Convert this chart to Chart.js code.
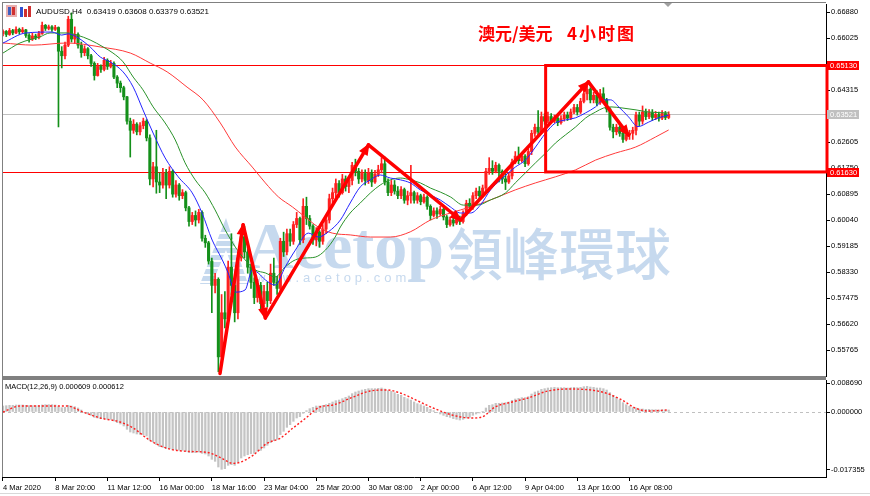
<!DOCTYPE html>
<html>
<head>
<meta charset="utf-8">
<script src="https://cdn.jsdelivr.net/npm/chart.js@4/dist/chart.umd.min.js"></script>
<style>
  html, body { margin: 0; padding: 0; background: #fff; }
  #wrap { position: relative; width: 870px; height: 496px; overflow: hidden; }
  #main { position: absolute; left: 0; top: 0; }
  #macd { position: absolute; left: 0; top: 378px; }
</style>
</head>
<body>
<div id="wrap">
  <canvas id="main" width="870" height="378"></canvas>
  <canvas id="macd" width="870" height="118"></canvas>
</div>
<script>
// AUDUSD H4, 4 Mar - 17 Apr 2020 (open of each bar = close of the previous bar)
const firstOpen = 0.6618;
const closes = [
  0.6625,0.6615,0.6628,0.6620,0.6632,0.6624,0.6630,0.6612,0.6600,0.6610,0.6605,0.6618,0.6645,0.6635,0.6640,0.6632,0.6638,
  0.6560,0.6545,0.6580,0.6665,0.6600,0.6615,0.6580,0.6555,0.6568,0.6545,0.6520,0.6480,0.6510,0.6500,0.6530,0.6510,0.6520,
  0.6475,0.6455,0.6440,0.6410,0.6330,0.6300,0.6320,0.6295,0.6315,0.6330,0.6275,0.6140,0.6180,0.6130,0.6120,0.6160,0.6120,
  0.6165,0.6090,0.6120,0.6085,0.6095,0.6045,0.6000,0.6020,0.6005,0.6030,0.5945,0.5930,0.5870,0.5790,0.5810,0.5555,0.5700,
  0.5680,0.5850,0.5790,0.5700,0.5880,0.5950,0.5900,0.5850,0.5800,0.5750,0.5790,0.5730,0.5770,0.5740,0.5830,0.5800,0.5780,
  0.5935,0.5900,0.5960,0.5935,0.5990,0.6010,0.5940,0.6050,0.6010,0.5985,0.5940,0.5965,0.5935,0.5975,0.6005,0.6075,0.6095,
  0.6125,0.6095,0.6140,0.6115,0.6135,0.6185,0.6165,0.6140,0.6158,0.6135,0.6160,0.6130,0.6155,0.6170,0.6190,0.6130,0.6095,
  0.6120,0.6100,0.6085,0.6105,0.6070,0.6085,0.6095,0.6070,0.6085,0.6065,0.6080,0.6050,0.6020,0.6035,0.6025,0.6040,0.6015,
  0.5990,0.6005,0.5995,0.6010,0.6000,0.6025,0.6060,0.6050,0.6085,0.6100,0.6085,0.6110,0.6165,0.6175,0.6165,0.6185,0.6165,
  0.6140,0.6130,0.6150,0.6195,0.6215,0.6200,0.6215,0.6190,0.6230,0.6290,0.6310,0.6295,0.6345,0.6330,0.6345,0.6330,0.6340,
  0.6325,0.6338,0.6350,0.6340,0.6360,0.6375,0.6360,0.6395,0.6420,0.6435,0.6400,0.6415,0.6390,0.6420,0.6400,0.6370,0.6310,
  0.6295,0.6310,0.6290,0.6270,0.6285,0.6290,0.6300,0.6350,0.6330,0.6360,0.6345,0.6358,0.6342,0.6352,0.6340,0.6355,0.6342,
  0.63521
];
const highs = [
  0.6630,0.6628,0.6635,0.6632,0.6640,0.6636,0.6638,0.6632,0.6618,0.6620,0.6616,0.6625,0.6656,0.6648,0.6646,0.6644,0.6645,
  0.6640,0.6575,0.6590,0.6675,0.6686,0.6640,0.6620,0.6590,0.6578,0.6572,0.6550,0.6525,0.6520,0.6515,0.6540,0.6535,0.6530,
  0.6525,0.6480,0.6462,0.6445,0.6412,0.6340,0.6335,0.6325,0.6325,0.6340,0.6335,0.6285,0.6195,0.6300,0.6160,0.6175,0.6172,
  0.6180,0.6170,0.6135,0.6125,0.6105,0.6100,0.6050,0.6030,0.6035,0.6040,0.6035,0.5955,0.5935,0.5880,0.5830,0.5815,0.5760,
  0.5770,0.5870,0.5960,0.5800,0.5900,0.5975,0.5985,0.5915,0.5860,0.5815,0.5810,0.5800,0.5790,0.5800,0.5860,0.5880,0.5820,
  0.5945,0.5965,0.5975,0.5975,0.6000,0.6030,0.6015,0.6075,0.6080,0.6020,0.5990,0.5980,0.5970,0.5990,0.6020,0.6090,0.6110,
  0.6140,0.6135,0.6155,0.6150,0.6145,0.6195,0.6205,0.6175,0.6170,0.6170,0.6175,0.6170,0.6168,0.6185,0.6210,0.6212,0.6140,
  0.6135,0.6135,0.6115,0.6115,0.6110,0.6100,0.6185,0.6100,0.6095,0.6090,0.6090,0.6085,0.6055,0.6045,0.6045,0.6050,0.6045,
  0.6020,0.6015,0.6012,0.6020,0.6018,0.6035,0.6070,0.6075,0.6095,0.6110,0.6115,0.6120,0.6175,0.6210,0.6200,0.6195,0.6190,
  0.6170,0.6160,0.6160,0.6205,0.6230,0.6245,0.6225,0.6220,0.6240,0.6300,0.6320,0.6365,0.6360,0.6355,0.6360,0.6355,0.6350,
  0.6345,0.6348,0.6360,0.6360,0.6370,0.6385,0.6385,0.6405,0.6430,0.6445,0.6440,0.6425,0.6430,0.6435,0.6440,0.6405,0.6375,
  0.6320,0.6320,0.6315,0.6295,0.6295,0.6300,0.6310,0.6360,0.6360,0.6380,0.6370,0.6368,0.6368,0.6362,0.6360,0.6365,0.6362,
  0.63608
];
const lows = [
  0.6610,0.6608,0.6612,0.6614,0.6618,0.6617,0.6620,0.6605,0.6590,0.6595,0.6598,0.6600,0.6615,0.6628,0.6630,0.6625,0.6628,
  0.6311,0.6505,0.6535,0.6575,0.6590,0.6585,0.6570,0.6540,0.6545,0.6535,0.6510,0.6465,0.6478,0.6490,0.6495,0.6500,0.6505,
  0.6470,0.6440,0.6425,0.6400,0.6320,0.6212,0.6290,0.6285,0.6285,0.6305,0.6265,0.6120,0.6114,0.6093,0.6095,0.6110,0.6075,
  0.6110,0.6080,0.6080,0.6070,0.6075,0.6035,0.5985,0.5990,0.5985,0.5995,0.5935,0.5915,0.5860,0.5700,0.5765,0.5506,0.5540,
  0.5650,0.5670,0.5760,0.5670,0.5680,0.5870,0.5880,0.5830,0.5780,0.5730,0.5735,0.5710,0.5720,0.5720,0.5730,0.5790,0.5760,
  0.5770,0.5885,0.5890,0.5920,0.5925,0.5980,0.5925,0.5930,0.5990,0.5975,0.5925,0.5920,0.5915,0.5925,0.5960,0.5995,0.6060,
  0.6080,0.6080,0.6090,0.6100,0.6095,0.6120,0.6150,0.6125,0.6130,0.6120,0.6125,0.6115,0.6125,0.6148,0.6160,0.6120,0.6085,
  0.6085,0.6090,0.6075,0.6075,0.6060,0.6055,0.6060,0.6060,0.6060,0.6055,0.6060,0.6040,0.6005,0.6015,0.6010,0.6020,0.6005,
  0.5980,0.5985,0.5985,0.5990,0.5990,0.5995,0.6020,0.6040,0.6040,0.6075,0.6075,0.6080,0.6100,0.6155,0.6155,0.6160,0.6130,
  0.6125,0.6105,0.6125,0.6140,0.6190,0.6190,0.6195,0.6180,0.6185,0.6220,0.6280,0.6285,0.6290,0.6320,0.6325,0.6325,0.6325,
  0.6315,0.6320,0.6330,0.6332,0.6335,0.6355,0.6350,0.6355,0.6390,0.6400,0.6390,0.6390,0.6380,0.6385,0.6390,0.6360,0.6300,
  0.6275,0.6285,0.6280,0.6260,0.6265,0.6270,0.6270,0.6285,0.6315,0.6320,0.6335,0.6338,0.6332,0.6335,0.6330,0.6335,0.6335,
  0.63379
];

// moving averages: [bar, price]
const maFast = [[0,0.6587],[7,0.6620],[15,0.6623],[18,0.6613],[20,0.6617],[23,0.6604],[26.7,0.6574],[29.8,0.6541],[32.8,0.6525],
  [36.8,0.6492],[39.9,0.6442],[42.9,0.6367],[46,0.6291],[49.7,0.6209],[53.7,0.6147],[58,0.6094],[61,0.6028],[64.1,0.5939],
  [67.2,0.5874],[69,0.5831],[71.2,0.5768],[74.2,0.5775],[76.4,0.5841],[78.2,0.5831],[80.4,0.5808],[83.4,0.5791],[86.5,0.5851],
  [89.6,0.5906],[93.6,0.5962],[96.6,0.5949],[99.7,0.5966],[103.4,0.6005],[106.4,0.6061],[109.5,0.6114],[112.6,0.6137],
  [115.6,0.6153],[118.7,0.6143],[121.8,0.6137],[124.8,0.6127],[127.9,0.6104],[131,0.6087],[134,0.6071],[137.1,0.6048],
  [140.2,0.6028],[143.3,0.6028],[146.3,0.6054],[149.4,0.6104],[152.5,0.6137],[157,0.6179],[160.1,0.6202],[163.2,0.6245],
  [166.3,0.6291],[169.3,0.6324],[172.4,0.6334],[175.5,0.6341],[178.5,0.6357],[181.6,0.6377],[184,0.6400],[186.2,0.6400],
  [188.7,0.6377],[191.7,0.6344],[194.6,0.6312],[197.9,0.6327],[200.9,0.6341],[204,0.6350]];
const maMid = [[0,0.6554],[5.2,0.6587],[11.3,0.6607],[14.4,0.6620],[19.6,0.6620],[22.7,0.6613],[26.7,0.6597],[30.7,0.6574],
  [33.7,0.6554],[36.8,0.6525],[39.9,0.6475],[42.9,0.6433],[46,0.6377],[49.7,0.6324],[52.8,0.6268],[55.8,0.6193],[58.9,0.6137],
  [62,0.6094],[65,0.6038],[68.1,0.5972],[71.2,0.5916],[74.2,0.5874],[77.3,0.5841],[80.4,0.5831],[83.4,0.5818],[86.5,0.5851],
  [89.6,0.5874],[92.6,0.5880],[95.7,0.5883],[98.8,0.5906],[101.8,0.5949],[103.4,0.5982],[106.4,0.6028],[109.5,0.6061],
  [112.6,0.6094],[115.6,0.6120],[118.7,0.6137],[121.8,0.6143],[124.8,0.6137],[127.9,0.6127],[131,0.6110],[134,0.6097],
  [137.1,0.6081],[141.1,0.6054],[145.4,0.6054],[149.4,0.6071],[154,0.6094],[157,0.6127],[160.1,0.6160],[163.2,0.6193],
  [166.3,0.6225],[169.3,0.6258],[172.4,0.6285],[175.5,0.6311],[178.5,0.6340],[181.6,0.6360],[184,0.6373],[186.2,0.6377],
  [190,0.6373],[194,0.6367],[198,0.6360],[204,0.6357]];
const maSlow = [[0,0.6587],[9.2,0.6580],[19.6,0.6587],[29.8,0.6574],[39,0.6554],[45.1,0.6521],[50.3,0.6492],[56.4,0.6442],
  [61.3,0.6400],[66.6,0.6324],[71.2,0.6245],[76.4,0.6179],[80.4,0.6127],[84.4,0.6081],[88.7,0.6048],[92.6,0.6015],
  [96.6,0.5982],[100.9,0.5962],[106.4,0.5956],[112.6,0.5949],[118.7,0.5949],[124.8,0.5966],[131,0.6005],[137.1,0.6028],
  [143.3,0.6048],[149.4,0.6071],[157,0.6104],[163.2,0.6127],[169.3,0.6147],[175.5,0.6170],[181.6,0.6202],[187.7,0.6225],
  [193.9,0.6245],[200,0.6278],[204,0.6301]];

// MACD(12,26,9) main value per bar and signal line knots
const macdMain = [
  0.0018,0.0019,0.0020,0.0020,0.0021,0.0021,0.0021,0.0020,0.0019,0.0019,0.0019,0.0019,0.0021,0.0022,0.0022,0.0022,0.0021,
  0.0016,0.0013,0.0014,0.0020,0.0018,0.0016,0.0012,0.0006,-0.0002,-0.0006,-0.0010,-0.0016,-0.0018,-0.0020,-0.0020,-0.0022,
  -0.0022,-0.0027,-0.0032,-0.0036,-0.0042,-0.0052,-0.0060,-0.0063,-0.0066,-0.0067,-0.0068,-0.0072,-0.0085,-0.0090,-0.0098,
  -0.0104,-0.0106,-0.0110,-0.0110,-0.0113,-0.0113,-0.0115,-0.0115,-0.0118,-0.0122,-0.0122,-0.0122,-0.0120,-0.0124,-0.0126,
  -0.0132,-0.0142,-0.0148,-0.0165,-0.0172,-0.0170,-0.0160,-0.0158,-0.0160,-0.0150,-0.0138,-0.0132,-0.0128,-0.0125,-0.0124,
  -0.0118,-0.0115,-0.0108,-0.0100,-0.0092,-0.0086,-0.0082,-0.0068,-0.0058,-0.0046,-0.0038,-0.0028,-0.0018,-0.0014,-0.0004,
  0.0004,0.0010,0.0014,0.0018,0.0018,0.0020,0.0022,0.0026,0.0030,0.0034,0.0036,0.0040,0.0044,0.0048,0.0055,0.0060,0.0063,
  0.0066,0.0068,0.0070,0.0070,0.0070,0.0071,0.0072,0.0069,0.0064,0.0062,0.0058,0.0053,0.0050,0.0044,0.0040,0.0036,0.0030,
  0.0025,0.0022,0.0018,0.0014,0.0008,0.0004,-0.0002,-0.0006,-0.0010,-0.0014,-0.0016,-0.0020,-0.0022,-0.0024,-0.0022,-0.0018,
  -0.0016,-0.0010,-0.0006,-0.0003,0.0002,0.0012,0.0020,0.0022,0.0026,0.0026,0.0027,0.0028,0.0030,0.0035,0.0039,0.0041,
  0.0043,0.0043,0.0046,0.0054,0.0060,0.0063,0.0068,0.0070,0.0072,0.0073,0.0074,0.0073,0.0073,0.0073,0.0072,0.0073,0.0074,
  0.0073,0.0074,0.0076,0.0077,0.0075,0.0074,0.0072,0.0072,0.0070,0.0066,0.0058,0.0050,0.0044,0.0036,0.0028,0.0022,0.0017,
  0.0013,0.0012,0.0009,0.0009,0.0008,0.0008,0.0007,0.0007,0.0006,0.0007,0.0006,0.000609
];
const macdSignal = [[0,0.0000],[5.2,0.0018],[19.6,0.0018],[24.5,0.0000],[29.8,-0.0018],[35.9,-0.0030],[39.9,-0.0048],
  [45,-0.0085],[50.3,-0.0109],[56.4,-0.0118],[62.5,-0.0121],[66.5,-0.0136],[70.5,-0.0154],[72.6,-0.0151],[76.6,-0.0130],
  [80.9,-0.0094],[84.9,-0.0079],[88.9,-0.0048],[93.2,-0.0015],[97.1,0.0015],[101.1,0.0021],[107.3,0.0045],[112.5,0.0063],
  [117.7,0.0066],[121.7,0.0057],[127.8,0.0030],[131.8,0.0012],[137.6,-0.0009],[143.7,-0.0018],[146.8,-0.0015],[150.8,0.0015],
  [156,0.0030],[160.9,0.0042],[167,0.0063],[173.1,0.0069],[183.6,0.0060],[189.7,0.0036],[193.7,0.0012],[197.7,0.0003],
  [203.8,0.000612]];

// axes
const priceTicks = [0.55765,0.56620,0.57475,0.58330,0.59185,0.60040,0.60895,0.61750,0.62605,0.63460,0.64315,0.65170,0.66025,0.66880];
const macdTicks = [-0.017355, 0, 0.008690];
const dateTicks = [0,16,32,48,64,80,96,112,128,144,160,176,192];
const dateLabels = ['4 Mar 2020','8 Mar 20:00','11 Mar 12:00','16 Mar 00:00','18 Mar 16:00','23 Mar 04:00','25 Mar 20:00',
  '30 Mar 08:00','2 Apr 00:00','6 Apr 12:00','9 Apr 04:00','13 Apr 16:00','16 Apr 08:00'];

// drawn objects
const levelPrices = [0.65130, 0.61630];
const lastPrice = 0.63521;
const boxFromBar = 166.3;
const arrowPath = [[66.5,0.5500],[73.6,0.5989],[80.4,0.5683],[112,0.6252],[140.2,0.6005],[179.4,0.6459],[191.7,0.6284]];

const X_MIN = -0.306, X_MAX = 252.22;
const BULL = '#ff2020', BEAR = '#14901a';
const SANS = '"Liberation Sans", sans-serif';
const FS = 7.5;
const WM = 'rgba(160,192,226,0.6)';

const bars = closes.map((c, i) => i);
const opens = closes.map((c, i) => i ? closes[i - 1] : firstOpen);
const candleColor = bars.map(i => closes[i] >= opens[i] ? BULL : BEAR);
const pts = arr => arr.map(p => ({x: p[0], y: p[1]}));

function rightAxis(ticks, fmt) {
  return {
    position: 'right',
    afterFit(s) { s.width = 44; s.paddingTop = 0; s.paddingBottom = 0; },
    afterBuildTicks(s) { s.ticks = ticks.map(v => ({value: v})); },
    ticks: { callback: fmt, color: '#000', font: {family: SANS, size: FS}, padding: 1 },
    grid: { drawOnChartArea: false, tickLength: 4, color: '#000' },
    border: { color: '#000' }
  };
}

function tag(ctx, py, text, bg) {
  ctx.fillStyle = bg;
  ctx.fillRect(827, Math.round(py) - 4, 32, 9);
  ctx.fillStyle = '#fff';
  ctx.font = FS + 'px ' + SANS;
  ctx.textBaseline = 'middle';
  ctx.textAlign = 'left';
  ctx.fillText(text, 830, Math.round(py) + 0.5);
}

function arrowHead(ctx, x1, y1, x2, y2) {
  const a = Math.atan2(y2 - y1, x2 - x1);
  ctx.beginPath();
  ctx.moveTo(x2 + 2 * Math.cos(a), y2 + 2 * Math.sin(a));
  ctx.lineTo(x2 - 10 * Math.cos(a) + 5 * Math.sin(a), y2 - 10 * Math.sin(a) - 5 * Math.cos(a));
  ctx.lineTo(x2 - 10 * Math.cos(a) - 5 * Math.sin(a), y2 - 10 * Math.sin(a) + 5 * Math.cos(a));
  ctx.closePath();
  ctx.fill();
}

const mainDeco = {
  id: 'mainDeco',
  beforeDatasetsDraw(chart) {
    const {ctx, chartArea: a, scales: {y}} = chart;
    ctx.save();
    // watermark: logo, name, url
    ctx.fillStyle = WM;
    ctx.beginPath();
    ctx.moveTo(200, 284); ctx.lineTo(226, 218); ctx.lineTo(248, 284); ctx.lineTo(238, 284);
    ctx.lineTo(226, 250); ctx.lineTo(212, 284); ctx.closePath();
    ctx.fill();
    ctx.fillStyle = '#fff';
    for (let yy = 232; yy < 284; yy += 7) ctx.fillRect(196, yy, 56, 2);
    ctx.fillStyle = WM;
    ctx.font = 'bold 66px "Liberation Serif", serif';
    ctx.textBaseline = 'alphabetic';
    ctx.fillText('Acetop', 246, 268);
    ctx.font = '500 56px "Noto Sans CJK TC"';
    ctx.fillText('領峰環球', 447, 275);
    ctx.font = '13px ' + SANS;
    ctx.letterSpacing = '4px';
    ctx.fillText('www.acetop.com', 256, 282);
    ctx.letterSpacing = '0px';
    // horizontal levels
    ctx.lineWidth = 1;
    const hline = (p, c) => {
      const py = Math.round(y.getPixelForValue(p)) + 0.5;
      ctx.strokeStyle = c;
      ctx.beginPath(); ctx.moveTo(a.left, py); ctx.lineTo(a.right, py); ctx.stroke();
    };
    hline(lastPrice, '#c0c0c0');
    levelPrices.forEach(p => hline(p, '#ff0000'));
    ctx.restore();
  },
  afterDatasetsDraw(chart) {
    const {ctx, chartArea: a, scales: {x, y}} = chart;
    ctx.save();
    ctx.strokeStyle = '#ff0000';
    ctx.fillStyle = '#ff0000';
    // box
    ctx.lineWidth = 3;
    const bx = x.getPixelForValue(boxFromBar);
    const by1 = y.getPixelForValue(levelPrices[0]);
    const by2 = y.getPixelForValue(levelPrices[1]);
    ctx.strokeRect(bx, by1, a.right + 1 - bx, by2 - by1);
    // arrows
    ctx.lineWidth = 3.5;
    ctx.lineJoin = 'round';
    ctx.lineCap = 'round';
    for (let i = 1; i < arrowPath.length; i++) {
      const x1 = x.getPixelForValue(arrowPath[i - 1][0]), y1 = y.getPixelForValue(arrowPath[i - 1][1]);
      const x2 = x.getPixelForValue(arrowPath[i][0]), y2 = y.getPixelForValue(arrowPath[i][1]);
      ctx.beginPath(); ctx.moveTo(x1, y1); ctx.lineTo(x2, y2); ctx.stroke();
      arrowHead(ctx, x1, y1, x2, y2);
    }
    ctx.restore();
  },
  afterDraw(chart) {
    const {ctx, scales: {y}} = chart;
    ctx.save();
    tag(ctx, y.getPixelForValue(levelPrices[0]), levelPrices[0].toFixed(5), '#ff0000');
    tag(ctx, y.getPixelForValue(lastPrice), lastPrice.toFixed(5), '#c0c0c0');
    tag(ctx, y.getPixelForValue(levelPrices[1]), levelPrices[1].toFixed(5), '#ff0000');
    // frame
    ctx.fillStyle = '#808080';
    ctx.fillRect(2, 2, 824, 1);
    ctx.fillRect(2, 2, 1, 376);
    ctx.fillRect(2, 376, 824, 2);
    // shift marker
    ctx.fillStyle = '#a0a0a0';
    ctx.beginPath(); ctx.moveTo(664, 3); ctx.lineTo(672, 3); ctx.lineTo(668, 7); ctx.closePath(); ctx.fill();
    // icons
    ctx.fillStyle = '#e8b0b0'; ctx.fillRect(6, 5, 11, 12);
    ctx.fillStyle = '#4060c0'; ctx.fillRect(8, 7, 3, 8);
    ctx.fillStyle = '#d03030'; ctx.fillRect(12, 7, 3, 8);
    ctx.fillStyle = '#3050d0'; ctx.fillRect(20, 7, 3, 10);
    ctx.fillStyle = '#d03030'; ctx.fillRect(24, 9, 3, 8); ctx.fillRect(28, 6, 3, 11);
    // titles
    ctx.fillStyle = '#000';
    ctx.font = '8px ' + SANS;
    ctx.textBaseline = 'alphabetic';
    ctx.fillText('AUDUSD,H4  0.63419 0.63608 0.63379 0.63521', 36, 14);
    ctx.fillStyle = '#ff0000';
    ctx.font = 'bold 17px "Noto Sans CJK SC"';
    ctx.fillText('澳元/美元', 478, 40);
    ctx.letterSpacing = '2px';
    ctx.fillText('4小时图', 567, 40);
    ctx.restore();
  }
};

new Chart(document.getElementById('main'), {
  type: 'bar',
  data: {
    datasets: [
      { type: 'line', data: pts(maFast), borderColor: '#2424ff', borderWidth: 1, pointRadius: 0, cubicInterpolationMode: 'monotone', order: 0 },
      { type: 'line', data: pts(maMid), borderColor: '#2a922a', borderWidth: 1, pointRadius: 0, cubicInterpolationMode: 'monotone', order: 0 },
      { type: 'line', data: pts(maSlow), borderColor: '#ff3a3a', borderWidth: 1, pointRadius: 0, cubicInterpolationMode: 'monotone', order: 0 },
      { data: bars.map(i => ({x: i, y: [opens[i], closes[i]]})), backgroundColor: candleColor, barThickness: 2.4, minBarLength: 1, grouped: false, order: 1 },
      { data: bars.map(i => ({x: i, y: [lows[i], highs[i]]})), backgroundColor: candleColor, barThickness: 1, grouped: false, order: 2 }
    ]
  },
  options: {
    responsive: false, animation: false, events: [],
    layout: { padding: {left: 2, top: 4, right: 0, bottom: 2} },
    plugins: { legend: {display: false}, tooltip: {enabled: false} },
    scales: {
      x: { type: 'linear', min: X_MIN, max: X_MAX, offset: false, grid: {offset: false}, display: false },
      y: Object.assign(rightAxis(priceTicks, v => v.toFixed(5)), { min: 0.54921, max: 0.67152 })
    }
  },
  plugins: [mainDeco]
});

const macdDeco = {
  id: 'macdDeco',
  beforeDatasetsDraw(chart) {
    const {ctx, chartArea: a, scales: {y}} = chart;
    ctx.save();
    ctx.strokeStyle = '#c0c0c0';
    ctx.setLineDash([3, 3]);
    const py = Math.round(y.getPixelForValue(0)) + 0.5;
    ctx.beginPath(); ctx.moveTo(a.left, py); ctx.lineTo(a.right, py); ctx.stroke();
    ctx.restore();
  },
  afterDraw(chart) {
    const {ctx} = chart;
    ctx.save();
    ctx.fillStyle = '#808080';
    ctx.fillRect(2, 0, 824, 2);
    ctx.fillRect(2, 0, 1, 99);
    ctx.fillStyle = '#000';
    ctx.font = FS + 'px ' + SANS;
    ctx.textBaseline = 'alphabetic';
    ctx.fillText('MACD(12,26,9) 0.000609 0.000612', 5, 11);
    ctx.fillStyle = '#d8d8d8';
    ctx.fillRect(0, 115, 870, 1);
    ctx.restore();
  }
};

new Chart(document.getElementById('macd'), {
  type: 'bar',
  data: {
    datasets: [
      { type: 'line', data: pts(macdSignal), borderColor: '#ff2020', borderWidth: 1.4, borderDash: [2, 2], pointRadius: 0, cubicInterpolationMode: 'monotone', order: 0 },
      { data: bars.map(i => ({x: i, y: macdMain[i]})), backgroundColor: '#c4c4c4', barThickness: 1.6, grouped: false, order: 1 }
    ]
  },
  options: {
    responsive: false, animation: false, events: [],
    layout: { padding: {left: 2, top: 2, right: 0, bottom: 0} },
    plugins: { legend: {display: false}, tooltip: {enabled: false} },
    scales: {
      x: {
        type: 'linear', min: X_MIN, max: X_MAX, position: 'bottom', offset: false,
        afterFit(s) { s.height = 19; s.paddingLeft = 0; s.paddingRight = 0; },
        afterBuildTicks(s) { s.ticks = dateTicks.map(v => ({value: v})); },
        ticks: { callback: v => dateLabels[dateTicks.indexOf(v)], align: 'start', maxRotation: 0, autoSkip: false,
                 color: '#000', font: {family: SANS, size: FS}, padding: 2 },
        grid: { drawOnChartArea: false, tickLength: 4, color: '#000', offset: false },
        border: { color: '#000' }
      },
      y: Object.assign(rightAxis(macdTicks, v => v.toFixed(6)), { min: -0.0195, max: 0.0096 })
    }
  },
  plugins: [macdDeco]
});
</script>
</body>
</html>
